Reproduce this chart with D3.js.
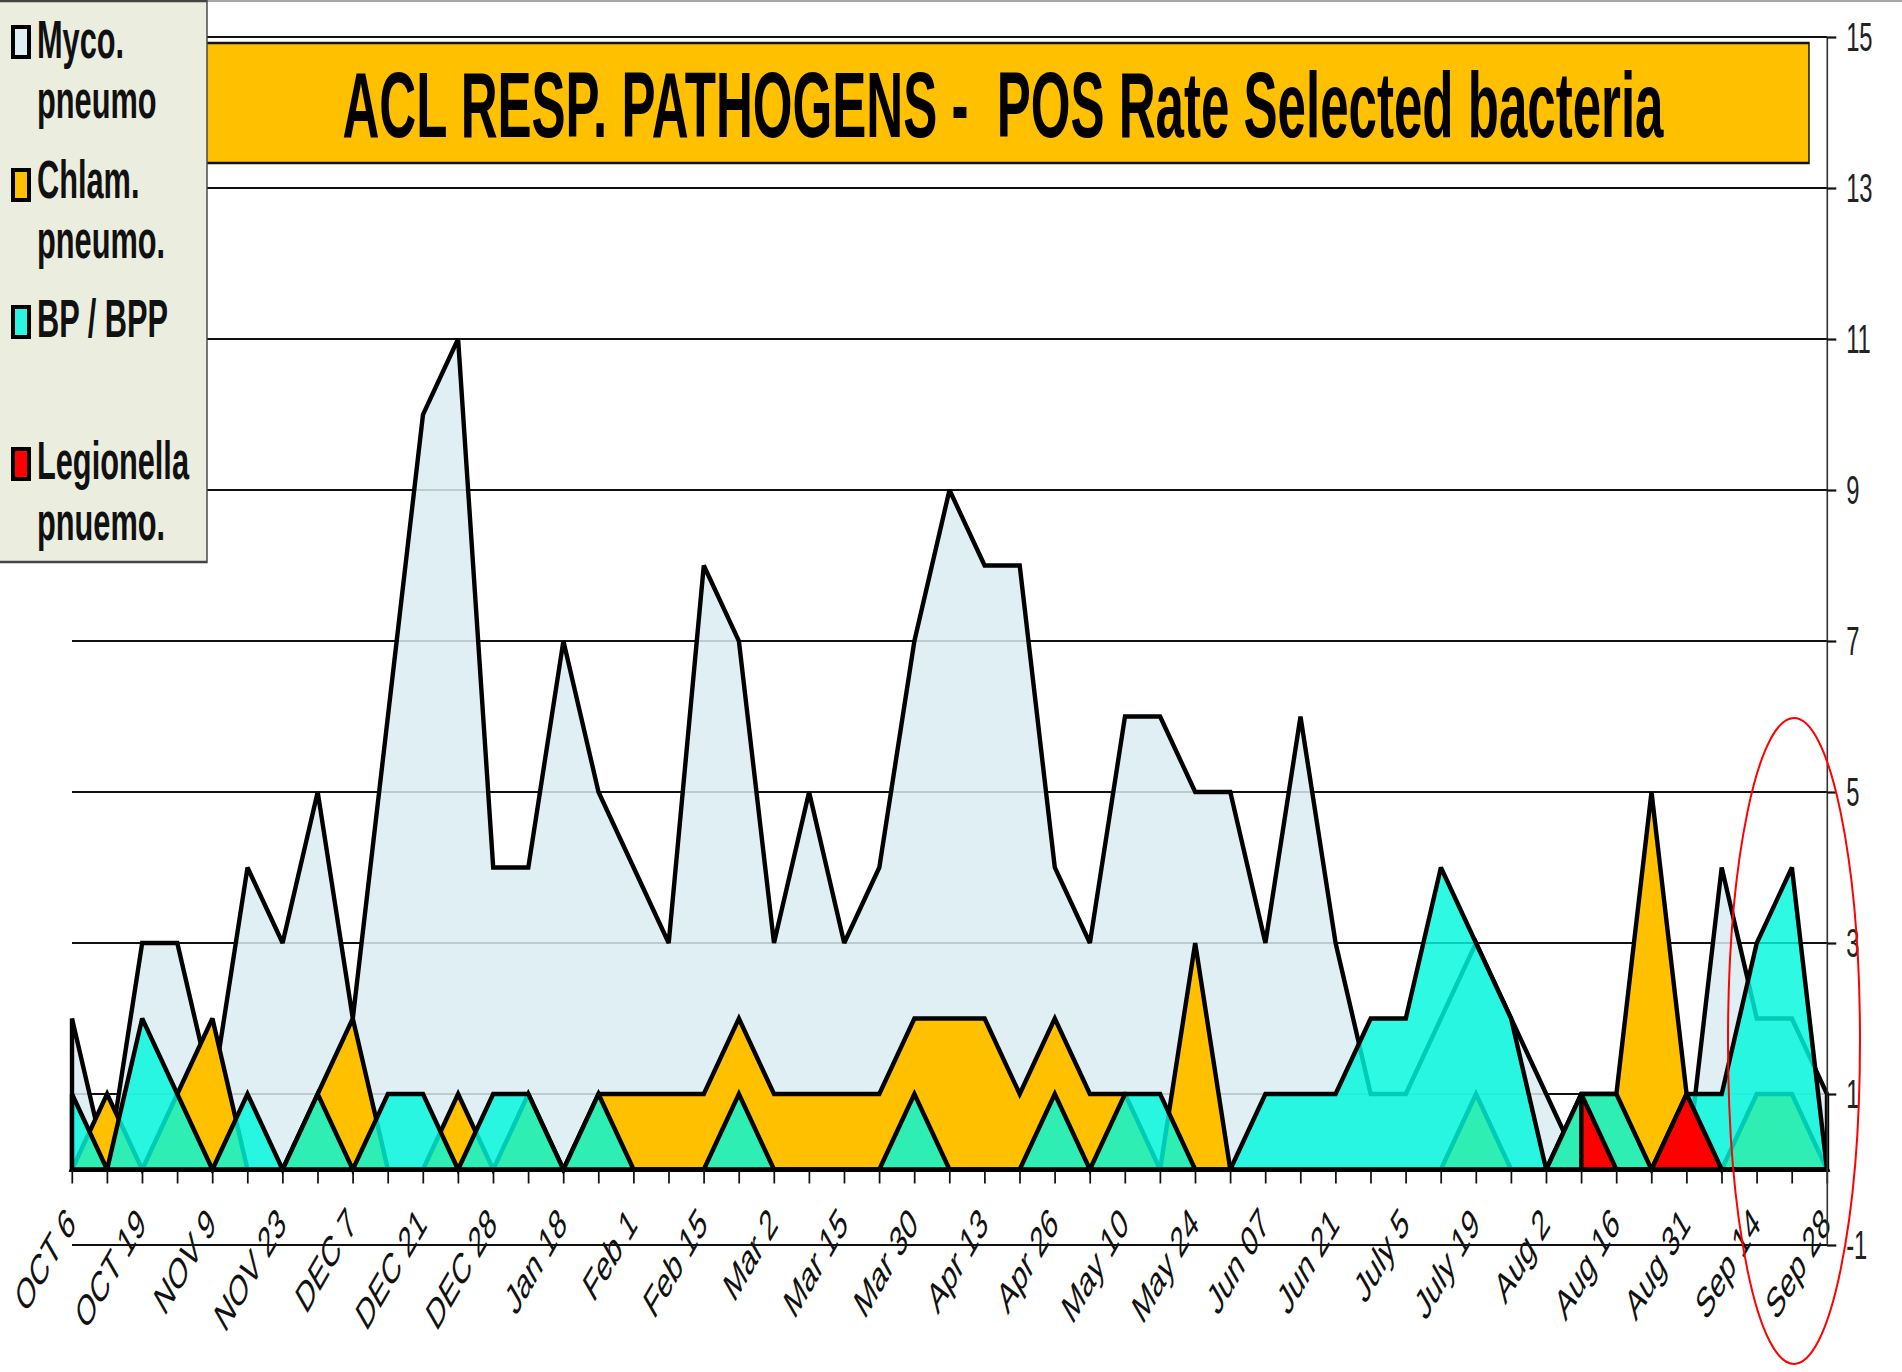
<!DOCTYPE html>
<html>
<head>
<meta charset="utf-8">
<script src="https://cdnjs.cloudflare.com/ajax/libs/d3/7.8.5/d3.min.js"></script>
<style>
  html, body { margin: 0; padding: 0; background: #fff; }
  svg { display: block; }
  text { font-family: Arial, "Liberation Sans", sans-serif; white-space: pre; }
</style>
</head>
<body>
<svg id="chart" width="1902" height="1372"></svg>
<script>
// ============ Data ============
// one value per week, 51 weeks; labels shown every other week
const tickLabels = ["OCT 6","OCT 19","NOV 9","NOV 23","DEC 7","DEC 21","DEC 28","Jan 18","Feb 1","Feb 15",
  "Mar 2","Mar 15","Mar 30","Apr 13","Apr 26","May 10","May 24","Jun 07","Jun 21","July 5",
  "July 19","Aug 2","Aug 16","Aug 31","Sep 14","Sep 28"];
const yTicks = [-1, 1, 3, 5, 7, 9, 11, 13, 15];

const myco  = [2,0,3,3,1,4,3,5,2,6, 10,11,4,4,7,5,4,3,8,7, 3,5,3,4,7,9,8,8,4,3, 6,6,5,5,3,6,3,1,1,2, 3,2,1,0,0,0,0,4,2,2, 1];
const chlam = [0,1,0,1,2,0,0,1,2,0, 0,1,0,1,0,1,1,1,1,2, 1,1,1,1,2,2,2,1,2,1, 1,0,3,0,0,0,0,0,0,0, 1,0,0,1,1,5,1,0,1,1, 0];
const bp    = [1,0,2,1,0,1,0,1,0,1, 1,0,1,1,0,1,0,0,0,1, 0,0,0,0,1,0,0,0,1,0, 1,1,0,0,1,1,1,2,2,4, 3,2,0,1,1,0,1,1,3,4, 0];
// no Legionella entries before Aug 16 (blank cells -> area starts with a vertical edge)
const legionella = [null,null,null,null,null,null,null,null,null,null, null,null,null,null,null,null,null,null,null,null,
  null,null,null,null,null,null,null,null,null,null, null,null,null,null,null,null,null,null,null,null,
  null,null,null,1,0,0,1,0,0,0, 0];

const legendLines = [["Myco.", "pneumo"], ["Chlam.", "pneumo."], ["BP / BPP"], ["Legionella", "pnuemo."]];
const titleText = "ACL RESP. PATHOGENS -  POS Rate Selected bacteria";

// ============ Layout ============
// the original picture is squeezed sideways; draw in wide space, then scale x
const SX = 0.58;
const PX = v => v / SX;           // final-pixel x -> drawing x

const svg = d3.select("#chart");
svg.append("rect").attr("width", 1902).attr("height", 1372).attr("fill", "#fff");
const g = svg.append("g").attr("transform", `scale(${SX},1)`);

const x = d3.scalePoint().domain(d3.range(myco.length)).range([PX(72), PX(1827)]);
const y = d3.scaleLinear().domain([-1, 15]).range([1245, 37]);

// chart border (top)
g.append("line").attr("x1", PX(200)).attr("x2", PX(1902)).attr("y1", 1).attr("y2", 1)
  .attr("stroke", "#8a8a8a").attr("stroke-width", 1.5);

// ---- gridlines ----
g.append("g").selectAll("line")
  .data(yTicks).join("line")
  .attr("x1", PX(72)).attr("x2", PX(1827))
  .attr("y1", d => y(d)).attr("y2", d => y(d))
  .attr("stroke", "#111").attr("stroke-width", 2.2);

// ---- areas ----
const area = d3.area()
  .defined(d => d != null)
  .x((d, i) => x(i))
  .y0(y(0))
  .y1(d => y(d));

const series = [
  { values: myco,       fill: "rgb(219,236,242)", op: 0.85 },
  { values: chlam,      fill: "#FFC000",          op: 1 },
  { values: bp,         fill: "rgb(0,248,220)",   op: 0.82 },
  { values: legionella, fill: "#FF0000",          op: 1 }
];

g.append("g").selectAll("path")
  .data(series).join("path")
  .attr("d", s => area(s.values))
  .attr("fill", s => s.fill)
  .attr("fill-opacity", s => s.op)
  .attr("stroke", "#000")
  .attr("stroke-width", 4.4)
  .attr("vector-effect", "non-scaling-stroke")
  .attr("stroke-linejoin", "miter")
  .attr("stroke-miterlimit", 3);

// ---- category axis ----
const xAxis = d3.axisBottom(x).tickSize(14).tickSizeOuter(0).tickFormat("");
const xg = g.append("g").attr("transform", `translate(0,${y(0)})`).call(xAxis);
xg.select(".domain").attr("stroke", "#000").attr("stroke-width", 4);
xg.selectAll(".tick line").attr("stroke", "#111").attr("stroke-width", 3);

g.append("g").selectAll("text")
  .data(tickLabels).join("text")
  .attr("transform", (d, k) => `translate(${x(2 * k) + PX(5)},1226) rotate(-45)`)
  .attr("text-anchor", "end")
  .attr("font-size", 43)
  .attr("fill", "#111")
  .text(d => d);

// ---- value axis (right) ----
const yAxis = d3.axisRight(y).tickValues(yTicks).tickSize(16).tickSizeOuter(0).tickPadding(17)
  .tickFormat(d => String(d));
const yg = g.append("g").attr("transform", `translate(${PX(1827)},0)`).call(yAxis);
yg.select(".domain").attr("stroke", "#333").attr("stroke-width", 2.8);
yg.selectAll(".tick line").attr("stroke", "#111").attr("stroke-width", 2.2);
yg.selectAll(".tick text").attr("font-size", 41).attr("fill", "#222")
  .attr("font-family", "Arial, 'Liberation Sans', sans-serif");

// ---- title box ----
g.append("rect")
  .attr("x", PX(196)).attr("y", 43).attr("width", PX(1613)).attr("height", 120)
  .attr("fill", "#FFC000").attr("stroke", "#111").attr("stroke-width", 2.5);
g.append("text")
  .attr("x", PX(1003)).attr("y", 137)
  .attr("text-anchor", "middle")
  .attr("font-size", 93).attr("font-weight", "bold")
  .attr("textLength", PX(1321)).attr("lengthAdjust", "spacingAndGlyphs")
  .attr("fill", "#000")
  .text(titleText);

// ---- legend ----
const legendFill = ["rgb(224,239,244)", "#FFC000", "#2AF5E0", "#FF0000"];
const markerY = [42, 185, 322, 464];
const textY = [[58, 118], [198, 258], [337], [479, 540]];

g.append("rect")
  .attr("x", PX(-4)).attr("y", 1).attr("width", PX(211)).attr("height", 561)
  .attr("fill", "#EBEEDF").attr("stroke", "#444").attr("stroke-width", 2.5);

const leg = g.append("g").selectAll("g")
  .data(legendLines).join("g");
leg.append("rect")
  .attr("x", PX(13)).attr("width", PX(16))
  .attr("y", (d, i) => markerY[i] - 15).attr("height", 30)
  .attr("fill", (d, i) => legendFill[i])
  .attr("stroke", "#000").attr("stroke-width", 4)
  .attr("vector-effect", "non-scaling-stroke");
leg.each(function(lines, i){
  d3.select(this).selectAll("text")
    .data(lines).join("text")
    .attr("x", PX(37))
    .attr("y", (t, j) => textY[i][j])
    .attr("font-size", 53).attr("font-weight", "bold")
    .attr("fill", "#111")
    .text(t => t);
});

// ---- red annotation ring ----
svg.append("ellipse")
  .attr("cx", 1794).attr("cy", 1041).attr("rx", 66).attr("ry", 323)
  .attr("fill", "none").attr("stroke", "#FF0000").attr("stroke-width", 2);
</script>
</body>
</html>
